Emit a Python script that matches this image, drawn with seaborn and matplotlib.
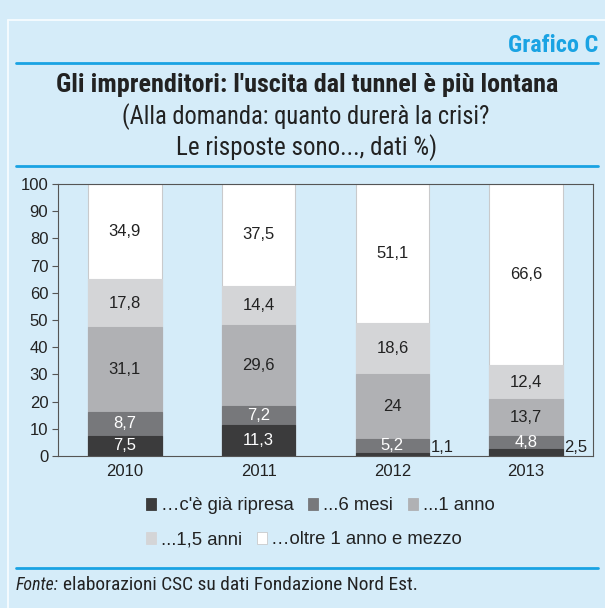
import matplotlib
matplotlib.use("Agg")
import matplotlib.pyplot as plt
import seaborn as sns
from matplotlib.patches import Patch
from matplotlib.lines import Line2D

# data
years = ["2010", "2011", "2012", "2013"]
series_names = ["\u2026c'\u00e8 gi\u00e0 ripresa", "...6 mesi", "...1 anno",
                "...1,5 anni", "\u2026oltre 1 anno e mezzo"]
gia_ripresa = [7.5, 11.3, 1.1, 2.5]
sei_mesi = [8.7, 7.2, 5.2, 4.8]
un_anno = [31.1, 29.6, 24.0, 13.7]
anno_e_mezzo = [17.8, 14.4, 18.6, 12.4]
oltre = [34.9, 37.5, 51.1, 66.6]

series = [gia_ripresa, sei_mesi, un_anno, anno_e_mezzo, oltre]
colors = ["#3b3b3c", "#77787b", "#b0b1b4", "#d4d5d7", "#ffffff"]
label_colors = ["white", "white", "#222222", "#222222", "#222222"]

BG = "#d5ecf9"
BLUE = "#1aa3e3"
NARROW = ["Roboto Condensed", "Roboto", "DejaVu Sans"]

sns.set_theme(style="white")
plt.rcParams["font.family"] = ["Liberation Sans", "DejaVu Sans"]

fig = plt.figure(figsize=(6.05, 6.08), dpi=100, facecolor=BG)
ax = fig.add_axes([58 / 605, 1 - 456 / 608, 535 / 605, 272 / 608])
ax.set_facecolor(BG)

# stacked bars: draw cumulative totals from the top segment down
cum = []
running = [0.0] * len(years)
for s in series:
    running = [r + v for r, v in zip(running, s)]
    cum.append(running)

for i in reversed(range(len(series))):
    sns.barplot(x=years, y=cum[i], color=colors[i], saturation=1, width=0.55,
                errorbar=None, ax=ax,
                edgecolor="#c9cacc" if i == 4 else colors[i], linewidth=0.8)

def fmt(v):
    return f"{v:g}".replace(".", ",")

for i, s in enumerate(series):
    for j, v in enumerate(s):
        base = cum[i][j] - v
        if v < 3:
            ax.text(j + 0.285, 0.2, fmt(v), ha="left", va="bottom",
                    fontsize=12, color="#222222")
        else:
            ax.text(j, base + v / 2, fmt(v), ha="center", va="center",
                    fontsize=12, color=label_colors[i])

ax.set_xlim(-0.5, 3.5)
ax.set_ylim(0, 100)
ax.set_yticks(range(0, 101, 10))
ax.set_xticks(range(4))
ax.set_xticks([0.5, 1.5, 2.5, 3.5], minor=True)
ax.tick_params(axis="x", which="major", length=0, pad=6, labelsize=12, colors="#222222")
ax.tick_params(axis="x", which="minor", length=4, width=0.8, color="#555555", direction="out")
ax.tick_params(axis="y", length=4, width=0.8, color="#555555", direction="out",
               pad=3, labelsize=12, labelcolor="#222222", left=True)
ax.set_xlabel("")
ax.set_ylabel("")
for sp in ax.spines.values():
    sp.set_color("#555555")
    sp.set_linewidth(0.8)

# legend in two rows, left aligned
handles = [Patch(facecolor=c, edgecolor="#c9cacc" if k == 4 else c, linewidth=0.6)
           for k, c in enumerate(colors)]
leg_kw = dict(frameon=False, fontsize=13.3, handlelength=0.55, handleheight=0.55,
              handletextpad=0.25, columnspacing=0.8, borderaxespad=0, borderpad=0)
leg1 = fig.legend(handles[:3], series_names[:3], ncol=3, loc="center left",
                  bbox_to_anchor=(146 / 605, 1 - 506 / 608), **leg_kw)
leg2 = fig.legend(handles[3:], series_names[3:], ncol=2, loc="center left",
                  bbox_to_anchor=(146 / 605, 1 - 540 / 608), **leg_kw)
for leg in (leg1, leg2):
    for t in leg.get_texts():
        t.set_color("#222222")

# frame, rules and titles
fig.add_artist(Line2D([7.5 / 605, 7.5 / 605], [0, 1 - 19.5 / 608], transform=fig.transFigure,
                      color="#f7fcff", lw=1.3))
fig.add_artist(Line2D([7.5 / 605, 1], [1 - 19.5 / 608, 1 - 19.5 / 608],
                      transform=fig.transFigure, color="#f7fcff", lw=1.3))
for y in (63, 166, 568):
    fig.add_artist(Line2D([16 / 605, 598 / 605], [1 - y / 608, 1 - y / 608],
                          transform=fig.transFigure, color=BLUE, lw=2))


def fit_text(x, y, s, width_px, fs, **kw):
    t = fig.text(x / 605, 1 - y / 608, s, fontsize=fs, va="center", **kw)
    fig.canvas.draw()
    w = t.get_window_extent().width
    t.set_fontsize(fs * width_px / w)
    return t


fit_text(598, 45, "Grafico C", 90, 15, ha="right", fontweight="bold",
         color=BLUE, family=NARROW)
fit_text(307, 85, "Gli imprenditori: l'uscita dal tunnel \u00e8 pi\u00f9 lontana", 502, 17,
         ha="center", fontweight="bold", color="#222222", family=NARROW)
fit_text(306, 117, "(Alla domanda: quanto durer\u00e0 la crisi?", 368, 16,
         ha="center", color="#222222", family=NARROW)
fit_text(307, 148, "Le risposte sono..., dati %)", 262, 16,
         ha="center", color="#222222", family=NARROW)

fonte = fit_text(16, 585, "Fonte:", 43, 12.5, ha="left", style="italic",
                 color="#222222", family=NARROW)
fig.canvas.draw()
bb = fonte.get_window_extent()
fit_text(bb.x1 + 4, 585, "elaborazioni CSC su dati Fondazione Nord Est.", 355, 12.5,
         ha="left", color="#222222", family=NARROW)

fig.savefig("out.png", dpi=100, facecolor=BG)
